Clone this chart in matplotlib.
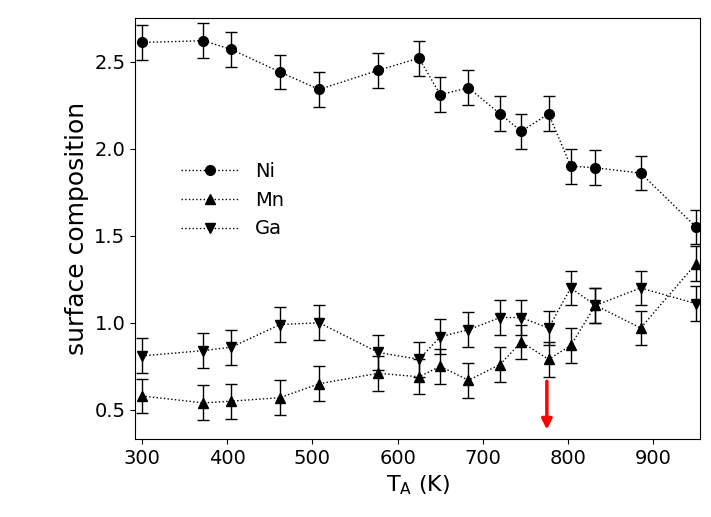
import matplotlib.pyplot as plt
from matplotlib.lines import Line2D

T = [300, 372, 405, 462, 508, 577, 625, 650, 683, 720, 745, 777, 803, 832, 885, 950]
ni = [2.61, 2.62, 2.57, 2.44, 2.34, 2.45, 2.52, 2.31, 2.35, 2.20, 2.10, 2.20, 1.90, 1.89, 1.86, 1.55]
mn = [0.58, 0.54, 0.55, 0.57, 0.65, 0.71, 0.69, 0.75, 0.67, 0.76, 0.89, 0.79, 0.87, 1.10, 0.97, 1.34]
ga = [0.81, 0.84, 0.86, 0.99, 1.00, 0.83, 0.79, 0.92, 0.96, 1.03, 1.03, 0.97, 1.20, 1.10, 1.20, 1.11]
err = 0.1

fig, ax = plt.subplots(figsize=(7.11, 5.17), dpi=100)
fig.subplots_adjust(left=0.19, right=0.985, bottom=0.15, top=0.965)

handles = []
for y, m, lab in [(ni, 'o', 'Ni'), (mn, '^', 'Mn'), (ga, 'v', 'Ga')]:
    ax.errorbar(T, y, yerr=err, fmt=m, ls=':', color='black', ms=7,
                capsize=4, elinewidth=1, lw=1)
    handles.append(Line2D([], [], marker=m, ls=':', color='black', ms=7, lw=1, label=lab))

ax.annotate('', xy=(775, 0.37), xytext=(775, 0.68),
            arrowprops=dict(arrowstyle='-|>', color='red', lw=2.5, mutation_scale=15))

ax.set_xlim(292, 955)
ax.set_ylim(0.33, 2.75)
ax.set_xticks([300, 400, 500, 600, 700, 800, 900])
ax.set_yticks([0.5, 1.0, 1.5, 2.0, 2.5])
ax.tick_params(labelsize=14, direction='out')
ax.set_xlabel('T$_\\mathregular{A}$ (K)', fontsize=16)
ax.set_ylabel('surface composition', fontsize=18)
ax.legend(handles=handles, loc='upper left', bbox_to_anchor=(0.05, 0.7), frameon=False,
          fontsize=14, handlelength=3)
fig.savefig('out.png')
